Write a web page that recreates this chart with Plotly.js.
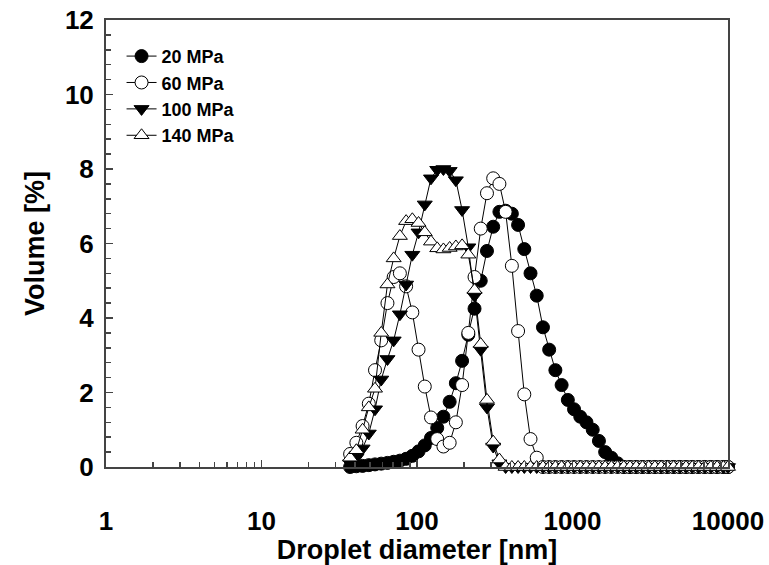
<!DOCTYPE html>
<html>
<head>
<meta charset="utf-8">
<script src="https://cdn.plot.ly/plotly-3.0.1.min.js"></script>
<style>html,body{margin:0;padding:0;background:#fff;}#chart{width:769px;height:565px;}</style>
</head>
<body>
<div id="chart"></div>
<script>
// Droplet diameter bins [nm]
const diameters = [37.15,40.74,44.67,48.98,53.70,58.88,64.57,70.79,77.62,85.11,
  93.33,102.3,112.2,123.0,134.9,147.9,162.2,177.8,195.0,213.8,
  234.4,257.0,281.8,309.0,338.8,371.5,407.4,446.7,489.8,537.0,
  588.8,645.7,707.9,776.2,851.1,933.3,1023,1122,1230,1349,
  1479,1622,1778,1950,2138,2344,2570,2818,3090,3388,
  3715,4074,4467,4898,5370,5888,6457,7079,7762,8511,
  9333,10000];

// Volume [%]
const vol20 = [0.0,0.02,0.03,0.05,0.07,0.09,0.11,0.14,0.17,0.22,
  0.30,0.42,0.58,0.78,1.05,1.35,1.75,2.25,2.85,3.55,
  4.25,5.00,5.80,6.45,6.85,6.88,6.80,6.50,5.85,5.20,
  4.60,3.75,3.15,2.60,2.20,1.80,1.55,1.35,1.20,1.00,
  0.70,0.40,0.25,0.10,0,0,0,0,0,0,
  0,0,0,0,0,0,0,0,0,0,
  0,0];
const vol60 = [0.35,0.65,1.10,1.70,2.60,3.40,4.40,5.10,5.20,4.85,
  4.15,3.15,2.16,1.33,0.75,0.55,0.65,1.20,2.20,3.60,
  5.10,6.40,7.35,7.75,7.60,6.85,5.40,3.65,1.95,0.75,
  0.25,0,0,0,0,0,0,0,0,0,
  0,0,0,0,0,0,0,0,0,0,
  0,0,0,0,0,0,0,0,0,0,
  0,0];
const vol100 = [0.10,0.25,0.50,0.90,1.55,2.35,2.90,3.40,4.10,4.90,
  5.70,6.30,7.05,7.75,7.98,8.00,7.95,7.70,6.90,5.90,
  4.60,3.15,1.60,0.55,0.10,0,0,0,0,0,
  0,0,0,0,0,0,0,0,0,0,
  0,0,0,0,0,0,0,0,0,0,
  0,0,0,0,0,0,0,0,0,0,
  0,0];
const vol140 = [0.25,0.45,1.00,1.60,2.10,3.60,4.90,5.60,6.20,6.60,
  6.65,6.55,6.30,6.05,5.87,5.84,5.88,5.92,5.95,5.70,
  4.75,3.30,1.80,0.68,0.20,0,0,0,0,0,
  0,0,0,0,0,0,0,0,0,0,
  0,0,0,0,0,0,0,0,0,0,
  0,0,0,0,0,0,0,0,0,0,
  0,0];

const seriesNames = ['20 MPa','60 MPa','100 MPa','140 MPa'];
const xTickVals = [1,10,100,1000,10000];
const xTickText = ['1','10','100','1000','10000'];

const FONT = 'Liberation Sans, Arial, sans-serif';
const INK = '#000000';
const AX = '#444444';

function trace(y, name, symbol, fill) {
  return {
    x: diameters, y: y, name: name, type: 'scatter', mode: 'lines+markers',
    line: {color: INK, width: 1},
    marker: {symbol: symbol, size: 13, color: fill, line: {color: INK, width: 1}},
    cliponaxis: false
  };
}

const data = [
  trace(vol20, seriesNames[0], 'circle', INK),
  trace(vol60, seriesNames[1], 'circle', '#ffffff'),
  trace(vol100, seriesNames[2], 'triangle-down', INK),
  trace(vol140, seriesNames[3], 'triangle-up', '#ffffff')
];

const minorX = [];
[1,10,100,1000].forEach(function(d){ for (let k = 2; k <= 9; k++) minorX.push(d*k); });

const layout = {
  width: 769, height: 565,
  margin: {l: 106, r: 41, t: 20, b: 98},
  paper_bgcolor: '#ffffff', plot_bgcolor: '#ffffff',
  showlegend: true,
  legend: {
    x: 0.025, y: 0.96, xanchor: 'left', yanchor: 'top',
    bgcolor: 'rgba(0,0,0,0)', borderwidth: 0,
    font: {family: FONT, size: 18, color: INK, weight: 'bold'},
    itemwidth: 30, tracegroupgap: 0
  },
  xaxis: {
    type: 'log', range: [0, 4],
    tickmode: 'array', tickvals: xTickVals, ticktext: xTickText,
    ticks: 'inside', ticklen: 7, tickwidth: 1.5, tickcolor: AX,
    showline: true, linecolor: AX, linewidth: 2, mirror: true,
    showgrid: false, zeroline: false,
    ticklabelstandoff: 30,
    tickfont: {family: FONT, size: 26, color: INK, weight: 'bold'},
    minor: {tickmode: 'array', tickvals: minorX, ticks: 'inside', ticklen: 5, tickwidth: 1.5, tickcolor: AX, showgrid: false},
    title: {text: 'Droplet diameter [nm]', font: {family: FONT, size: 27, color: INK, weight: 'bold'}, standoff: 12}
  },
  yaxis: {
    range: [0, 12], tick0: 0, dtick: 2,
    ticks: 'inside', ticklen: 7, tickwidth: 1.5, tickcolor: AX,
    showline: true, linecolor: AX, linewidth: 2, mirror: true,
    showgrid: false, zeroline: false,
    ticklabelstandoff: 5,
    tickfont: {family: FONT, size: 26, color: INK, weight: 'bold'},
    minor: {tick0: 0, dtick: 0.4, ticks: 'inside', ticklen: 5, tickwidth: 1.5, tickcolor: AX, showgrid: false},
    title: {text: 'Volume [%]', font: {family: FONT, size: 27, color: INK, weight: 'bold'}, standoff: 12}
  }
};

Plotly.newPlot('chart', data, layout, {displayModeBar: false, staticPlot: true});
</script>
</body>
</html>
